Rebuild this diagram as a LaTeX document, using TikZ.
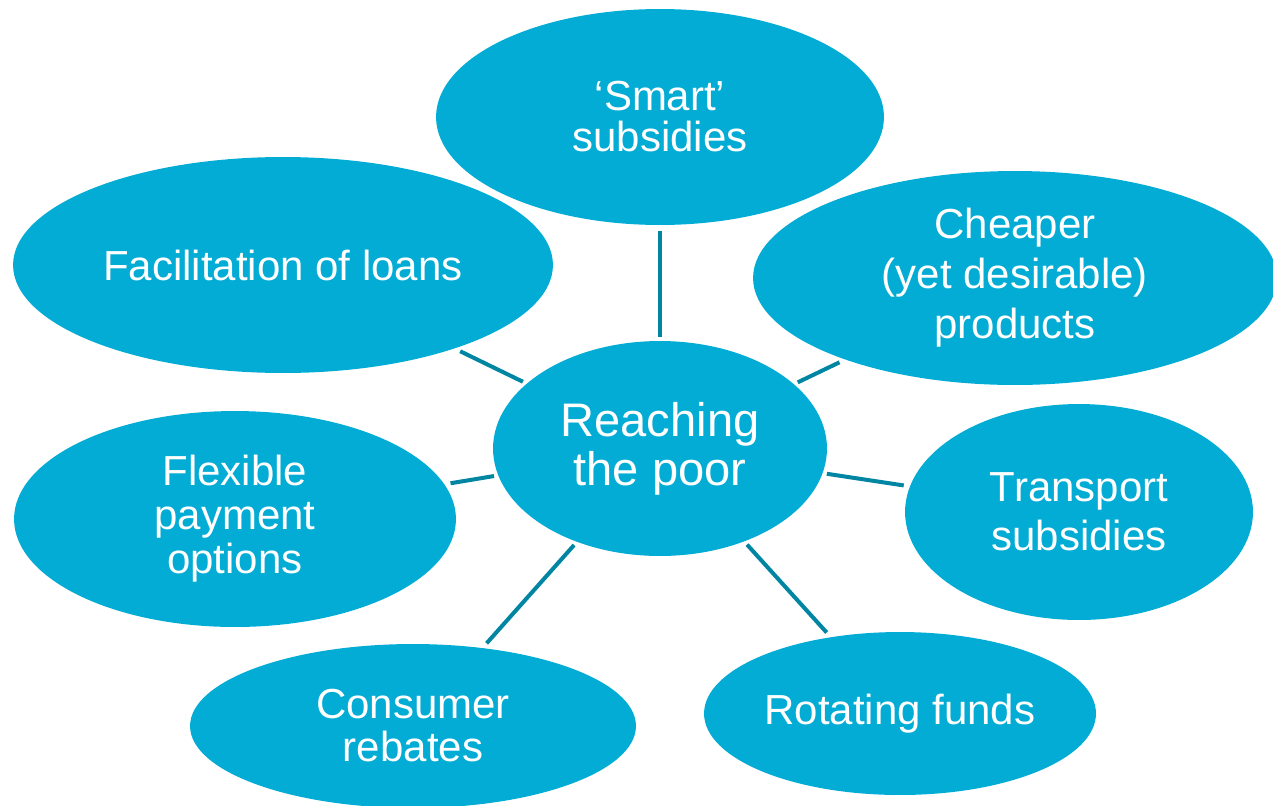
\documentclass[tikz,border=0pt]{standalone}
\usepackage{fontspec}
\setmainfont{Liberation Sans}
\usepackage{tikz}
\usetikzlibrary{shapes.geometric}

\definecolor{bubblefill}{RGB}{2,172,212}
\definecolor{spokecol}{RGB}{0,134,163}

% same size everywhere, only the line spacing differs per bubble
\newcommand{\bubblefont}[1]{\fontsize{23.9pt}{#1}\selectfont}

\begin{document}
\begin{tikzpicture}[x=0.02cm, y=-0.02cm]
    \tikzstyle{every node}=[font=\bubblefont{27.9pt}]
    \tikzset{
      bubble/.style={ellipse, fill=bubblefill, text=white, inner sep=0pt, align=center},
      spoke/.style={draw=spokecol, line width=0.08cm, shorten <=0.08cm, shorten >=0.12cm}
    }
    \useasboundingbox (0,0) rectangle (1273,805);

    \node[bubble, minimum width=6.68cm, minimum height=4.3cm,
          font=\fontsize{26.8pt}{27.9pt}\selectfont]        (hub) at (660,448.5) {Reaching\\the poor};

    \node[bubble, minimum width=8.96cm, minimum height=4.32cm, font=\bubblefont{23.3pt}]  (smart) at (660,117) {‘Smart’\\subsidies};
    \node[bubble, minimum width=10.8cm, minimum height=4.32cm]  (loans)     at (283,265) {Facilitation of loans};
    \node[bubble, minimum width=10.48cm, minimum height=4.28cm, font=\bubblefont{28.4pt}] (cheaper) at (1015,278) {Cheaper\\(yet desirable)\\products};
    \node[bubble, minimum width=8.84cm, minimum height=4.32cm, font=\bubblefont{25pt}]  (flexible) at (235,519) {Flexible\\payment\\options};
    \node[bubble, minimum width=6.96cm, minimum height=4.32cm]  (transport) at (1079,512) {Transport\\subsidies};
    \node[bubble, minimum width=8.92cm, minimum height=3.28cm, font=\bubblefont{24.5pt}]  (rebates) at (413,726) {Consumer\\rebates};
    \node[bubble, minimum width=7.84cm, minimum height=3.26cm]  (funds)     at (900,713.5) {Rotating funds};

    \draw[spoke] (hub) to (smart);
    \draw[spoke] (hub) to (loans);
    \draw[spoke] (hub) to (cheaper);
    \draw[spoke] (hub) to (flexible);
    \draw[spoke] (hub) to (transport);
    \draw[spoke] (hub) to (rebates);
    \draw[spoke] (hub) to (funds);
\end{tikzpicture}
\end{document}
